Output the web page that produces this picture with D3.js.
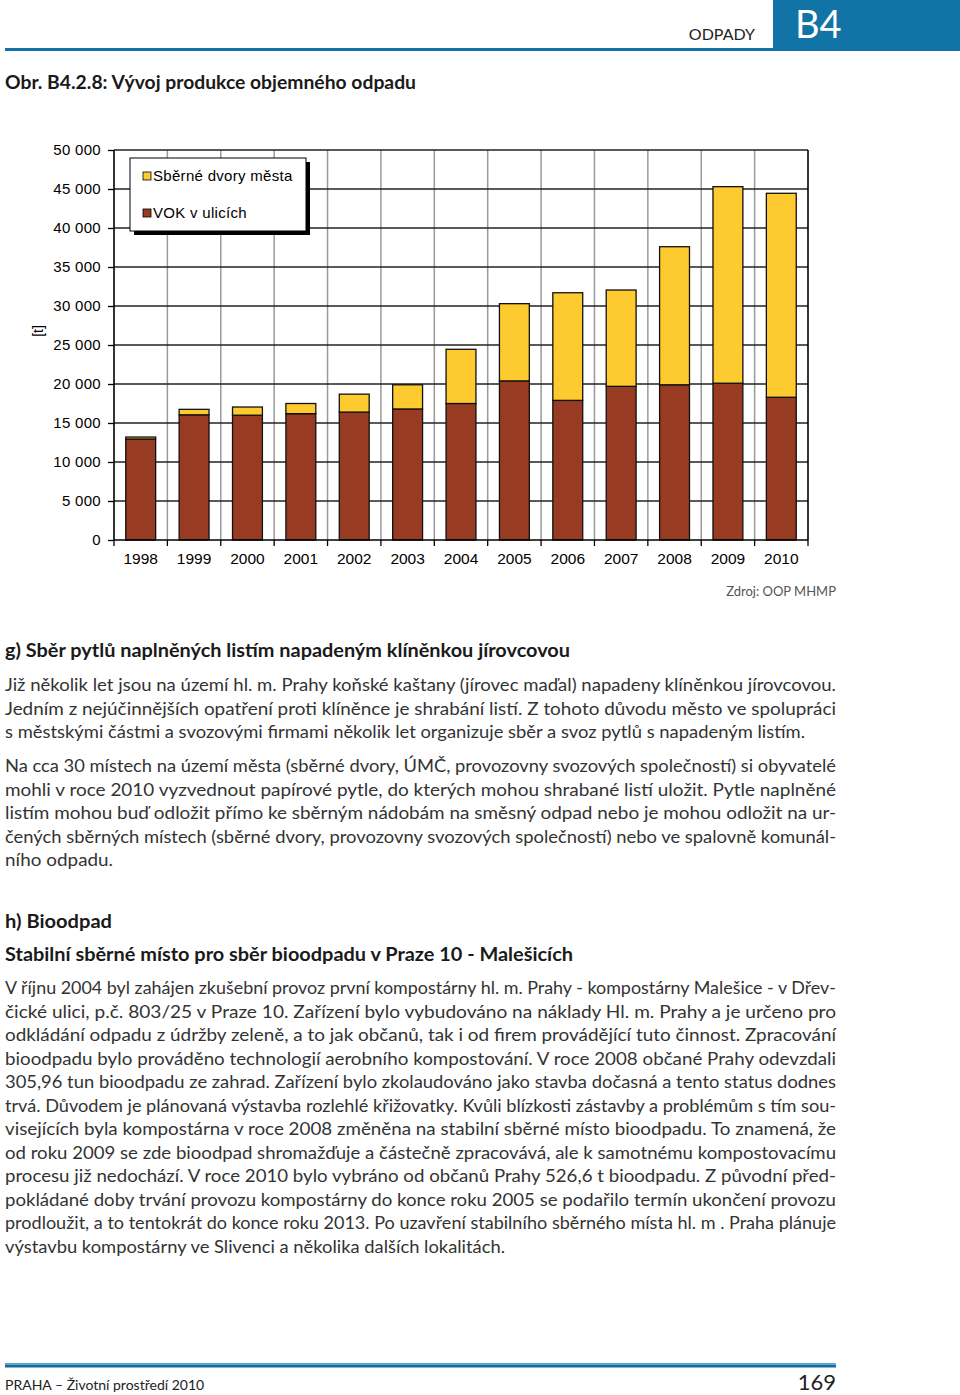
<!DOCTYPE html>
<html>
<head>
<meta charset="utf-8">
<script src="https://cdn.jsdelivr.net/npm/d3@7"></script>
<style>
  body { margin: 0; background: #fff; }
  svg { display: block; }
  .axis path { display: none; }
  .axis line { stroke: #000; stroke-width: 1.3; }
  .axis text { font-family: "Liberation Sans", Arial, sans-serif; font-size: 15px; fill: #000; }
  .y.axis text { letter-spacing: 0.3px; }
</style>
</head>
<body>
<div id="page"></div>
<script>
// chart data
var years = ['1998', '1999', '2000', '2001', '2002', '2003', '2004', '2005', '2006', '2007', '2008', '2009', '2010'];
var vok = [12950, 16050, 16000, 16200, 16400, 16800, 17500, 20400, 17900, 19700, 19900, 20100, 18300];
var sberne = [250, 700, 1050, 1300, 2300, 3100, 6950, 9900, 13800, 12350, 17700, 25200, 26150];
var yTicks = [0, 5000, 10000, 15000, 20000, 25000, 30000, 35000, 40000, 45000, 50000];
var legendNames = ['Sběrné dvory města', 'VOK v ulicích'];

// page text
var paraG1 = [
    'Již několik let jsou na území hl. m. Prahy koňské kaštany (jírovec maďal) napadeny klíněnkou jírovcovou.',
    'Jedním z nejúčinnějších opatření proti klíněnce je shrabání listí. Z tohoto důvodu město ve spolupráci',
    's městskými částmi a svozovými firmami několik let organizuje sběr a svoz pytlů s napadeným listím.'
];
var paraG2 = [
    'Na cca 30 místech na území města (sběrné dvory, ÚMČ, provozovny svozových společností) si obyvatelé',
    'mohli v roce 2010 vyzvednout papírové pytle, do kterých mohou shrabané listí uložit. Pytle naplněné',
    'listím mohou buď odložit přímo ke sběrným nádobám na směsný odpad nebo je mohou odložit na ur-',
    'čených sběrných místech (sběrné dvory, provozovny svozových společností) nebo ve spalovně komunál-',
    'ního odpadu.'
];
var paraH = [
    'V říjnu 2004 byl zahájen zkušební provoz první kompostárny hl. m. Prahy - kompostárny Malešice - v Dřev-',
    'čické ulici, p.č. 803/25 v Praze 10. Zařízení  bylo vybudováno na náklady Hl. m. Prahy a je určeno pro',
    'odkládání odpadu z údržby zeleně, a to jak občanů, tak i od firem provádějící tuto činnost. Zpracování',
    'bioodpadu bylo prováděno technologií aerobního kompostování. V roce 2008 občané Prahy odevzdali',
    '305,96 tun bioodpadu ze zahrad. Zařízení bylo zkolaudováno jako stavba dočasná a tento status dodnes',
    'trvá. Důvodem je plánovaná výstavba rozlehlé křižovatky. Kvůli blízkosti zástavby a problémům s tím sou-',
    'visejících byla kompostárna v roce 2008 změněna na stabilní sběrné místo bioodpadu. To znamená, že',
    'od roku 2009 se zde bioodpad shromažďuje a částečně zpracovává, ale k samotnému kompostovacímu',
    'procesu již nedochází. V roce 2010 bylo vybráno od občanů Prahy 526,6 t bioodpadu. Z původní před-',
    'pokládané doby trvání provozu kompostárny do konce roku 2005 se podařilo termín ukončení provozu',
    'prodloužit, a to tentokrát do konce roku 2013. Po uzavření stabilního sběrného místa hl. m . Praha plánuje',
    'výstavbu kompostárny ve Slivenci a několika dalších lokalitách.'
];

var W = 960, H = 1395;
var bodyFont = 'Lato, "Noto Sans", sans-serif';
var colors = {vok: '#973b22', sberne: '#fdca30', blue: '#1273a6'};

var svg = d3.select('#page').append('svg')
    .attr('width', W)
    .attr('height', H);

// header
svg.append('rect').attr('x', 773).attr('y', 0).attr('width', 187).attr('height', 51).attr('fill', colors.blue);
svg.append('rect').attr('x', 5).attr('y', 48).attr('width', 768).attr('height', 3).attr('fill', colors.blue);
svg.append('text').attr('x', 755).attr('y', 40).attr('text-anchor', 'end')
    .style('font-family', bodyFont).style('font-size', '16px').attr('fill', '#222').text('ODPADY');
svg.append('text').attr('x', 795).attr('y', 38)
    .style('font-family', bodyFont).style('font-size', '38px').attr('fill', '#fff').text('B4');

// fit a text line to a given width (the source is justified)
function fitText(sel, w) {
    var len = sel.node().getComputedTextLength();
    if (Math.abs(len - w) > 1) {
        sel.attr('textLength', w).attr('lengthAdjust', 'spacingAndGlyphs');
    }
    return sel;
}

function heading(txt, y, size, w) {
    var t = svg.append('text').attr('x', 5).attr('y', y)
        .style('font-family', bodyFont).style('font-size', size + 'px').style('font-weight', 'bold')
        .attr('fill', '#1a1a1a').text(txt);
    if (w) fitText(t, w);
}

function paragraph(lines, y0, lastWidth) {
    lines.forEach(function(l, i) {
        var t = svg.append('text').attr('x', 5).attr('y', y0 + i * 23.5)
            .style('font-family', bodyFont).style('font-size', '17px')
            .attr('fill', '#333').text(l);
        fitText(t, i === lines.length - 1 ? lastWidth : 831);
    });
}

heading('Obr. B4.2.8: Vývoj produkce objemného odpadu', 89, 18, 411);

// chart
var margin = {top: 150, left: 114},
    width = 808 - 114,
    height = 540 - 150;

var g = svg.append('g')
    .attr('transform', 'translate(' + margin.left + ',' + margin.top + ')');

var x = d3.scaleBand().domain(years).range([0, width]).padding(0);
var y = d3.scaleLinear().domain([0, 50000]).range([height, 0]);
var barW = x.bandwidth() * 0.56;

var fmt = d3.formatLocale({decimal: ',', thousands: ' ', grouping: [3], currency: ['', '']}).format(',');

// gridlines
g.selectAll('.vgrid')
    .data(years.slice(1))
    .enter().append('line')
        .attr('x1', function(d) { return x(d); })
        .attr('x2', function(d) { return x(d); })
        .attr('y1', 0).attr('y2', height)
        .attr('stroke', '#9a9a9a').attr('stroke-width', 1.5);

g.selectAll('.hgrid')
    .data(yTicks.slice(1))
    .enter().append('line')
        .attr('x1', 0).attr('x2', width)
        .attr('y1', function(d) { return y(d); })
        .attr('y2', function(d) { return y(d); })
        .attr('stroke', '#222').attr('stroke-width', 1.4);

// stacked bars
var rows = years.map(function(yr, i) { return {year: yr, vok: vok[i], sberne: sberne[i]}; });
var stack = d3.stack().keys(['vok', 'sberne'])(rows);

g.selectAll('.layer')
    .data(stack)
    .enter().append('g')
        .attr('fill', function(d) { return colors[d.key]; })
    .selectAll('rect')
    .data(function(d) { return d; })
    .enter().append('rect')
        .attr('x', function(d) { return x(d.data.year) + (x.bandwidth() - barW) / 2; })
        .attr('width', barW)
        .attr('y', function(d) { return y(d[1]); })
        .attr('height', function(d) { return y(d[0]) - y(d[1]); })
        .attr('stroke', '#111').attr('stroke-width', 1.3);

// axes
g.append('g')
    .attr('class', 'y axis')
    .call(d3.axisLeft(y).tickValues(yTicks).tickSize(6).tickPadding(7).tickFormat(fmt));

g.append('g')
    .attr('class', 'x axis')
    .attr('transform', 'translate(0,' + height + ')')
    .call(d3.axisBottom(x).tickSize(0).tickPadding(13))
    .selectAll('text').style('font-size', '15.5px');

// category boundary ticks on the x axis
g.selectAll('.xtick')
    .data(years.concat(['end']))
    .enter().append('line')
        .attr('x1', function(d, i) { return i * x.step(); })
        .attr('x2', function(d, i) { return i * x.step(); })
        .attr('y1', height).attr('y2', height + 6)
        .attr('stroke', '#000').attr('stroke-width', 1.3);

// frame lines
g.append('line').attr('x1', 0).attr('x2', 0).attr('y1', 0).attr('y2', height).attr('stroke', '#000').attr('stroke-width', 1.6);
g.append('line').attr('x1', width).attr('x2', width).attr('y1', 0).attr('y2', height).attr('stroke', '#000').attr('stroke-width', 1.6);
g.append('line').attr('x1', 0).attr('x2', width).attr('y1', height).attr('y2', height).attr('stroke', '#000').attr('stroke-width', 1.6);

// y axis unit
svg.append('text')
    .attr('transform', 'translate(43,331) rotate(-90)')
    .attr('text-anchor', 'middle')
    .style('font-family', '"Liberation Sans", Arial, sans-serif').style('font-size', '14px')
    .text('[t]');

// legend
var legend = svg.append('g').attr('transform', 'translate(130,158)');
legend.append('rect').attr('x', 4).attr('y', 4).attr('width', 176).attr('height', 73).attr('fill', '#000');
legend.append('rect').attr('width', 176).attr('height', 73).attr('fill', '#fff').attr('stroke', '#000').attr('stroke-width', 1);
var legKeys = ['sberne', 'vok'];
legKeys.forEach(function(k, i) {
    legend.append('rect')
        .attr('x', 13).attr('y', 14 + i * 37).attr('width', 8).attr('height', 8)
        .attr('fill', colors[k]).attr('stroke', '#000').attr('stroke-width', 0.8);
    legend.append('text')
        .attr('x', 23).attr('y', 23 + i * 37)
        .style('font-family', '"Liberation Sans", Arial, sans-serif').style('font-size', '15px')
        .style('letter-spacing', '0.3px')
        .text(legendNames[i]);
});

svg.append('text').attr('x', 836).attr('y', 596).attr('text-anchor', 'end')
    .style('font-family', bodyFont).style('font-size', '13px').attr('fill', '#555')
    .text('Zdroj: OOP MHMP');

// text sections
heading('g) Sběr pytlů naplněných listím napadeným klíněnkou jírovcovou', 657, 18, 565);
paragraph(paraG1, 691, 800);
paragraph(paraG2, 772, 108);
heading('h) Bioodpad', 928, 18, 107);
heading('Stabilní sběrné místo pro sběr bioodpadu v Praze 10 - Malešicích', 961, 18, 568);
paragraph(paraH, 994, 500);

// footer
svg.append('rect').attr('x', 5).attr('y', 1363).attr('width', 831).attr('height', 2).attr('fill', '#5aaad2');
svg.append('rect').attr('x', 5).attr('y', 1365).attr('width', 831).attr('height', 2.5).attr('fill', '#176d99');
svg.append('text').attr('x', 5).attr('y', 1390)
    .style('font-family', bodyFont).style('font-size', '14px').attr('fill', '#222')
    .text('PRAHA – Životní prostředí 2010');
svg.append('text').attr('x', 836).attr('y', 1390).attr('text-anchor', 'end')
    .style('font-family', bodyFont).style('font-size', '22px').attr('fill', '#222')
    .text('169');
</script>
</body>
</html>
